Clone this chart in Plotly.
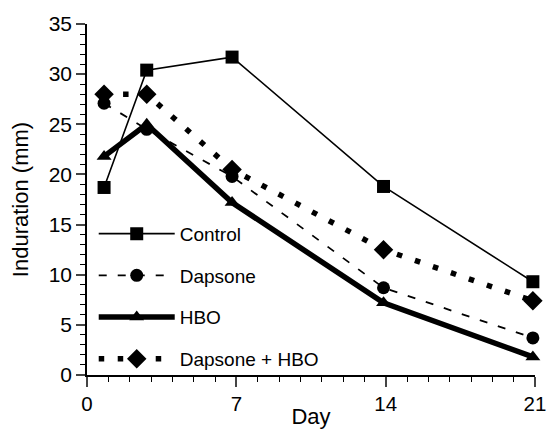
import plotly.graph_objects as go

days = [0.8, 2.8, 6.8, 13.9, 20.9]
control = [18.7, 30.4, 31.7, 18.8, 9.3]
dapsone = [27.1, 24.5, 19.8, 8.7, 3.7]
hbo = [21.8, 25.0, 17.2, 7.2, 1.8]
dapsone_hbo = [28.0, 28.0, 20.5, 12.5, 7.4]

x_ticks = [0, 7, 14, 21]
y_ticks = [0, 5, 10, 15, 20, 25, 30, 35]

FONT = "Liberation Sans, Arial, Helvetica, sans-serif"

fig = go.Figure()
fig.add_trace(go.Scatter(x=days, y=control, name="Control", mode="lines+markers",
                         line=dict(color="black", width=1.6),
                         marker=dict(symbol="square", size=13, color="black"),
                         legendgroup="a", cliponaxis=False))
fig.add_trace(go.Scatter(x=days, y=dapsone, name="Dapsone", mode="lines+markers",
                         line=dict(color="black", width=1.8, dash="8px,11px"),
                         marker=dict(symbol="circle", size=13, color="black"),
                         legendgroup="b", cliponaxis=False))
fig.add_trace(go.Scatter(x=days, y=hbo, name="HBO", mode="lines+markers",
                         line=dict(color="black", width=5.5),
                         marker=dict(symbol="triangle-up", size=13, color="black"),
                         legendgroup="c", cliponaxis=False))
fig.add_trace(go.Scatter(x=days, y=dapsone_hbo, name="Dapsone + HBO", mode="lines+markers",
                         line=dict(color="black", width=5.5, dash="5.5px,13.5px"),
                         marker=dict(symbol="diamond", size=15, color="black"),
                         legendgroup="d", cliponaxis=False))

fig.update_layout(
    width=546, height=429,
    margin=dict(l=87, r=11, t=24, b=54),
    paper_bgcolor="white", plot_bgcolor="white",
    font=dict(family=FONT, color="black", size=20),
    showlegend=True,
    legend=dict(x=0.015, y=-0.008, xanchor="left", yanchor="bottom",
                traceorder="grouped", tracegroupgap=14, itemwidth=76,
                font=dict(size=19, family=FONT), bgcolor="rgba(0,0,0,0)"),
    xaxis=dict(range=[0, 21], tickvals=x_ticks, ticks="outside", ticklen=10, tickwidth=1.5,
               showline=True, linecolor="black", linewidth=1.5, showgrid=False, zeroline=False,
               tickfont=dict(size=20.5), automargin=False, ticklabeloverflow="allow",
               minor=dict(dtick=1, ticks="outside", ticklen=5, tickwidth=1.2, tickcolor="black", showgrid=False),
               title=dict(text="Day", font=dict(size=22), standoff=0)),
    yaxis=dict(range=[0, 35], tickvals=y_ticks, ticks="outside", ticklen=9, tickwidth=1.5,
               showline=True, linecolor="black", linewidth=1.5, showgrid=False, zeroline=False,
               tickfont=dict(size=21), automargin=False, ticklabeloverflow="allow",
               minor=dict(dtick=1, ticks="outside", ticklen=5, tickwidth=1.2, tickcolor="black", showgrid=False),
               title=dict(text="Induration (mm)", font=dict(size=22), standoff=14)),
)

fig.write_html("out.html", config={"displayModeBar": False},
               post_script="document.body.style.margin='0';")
